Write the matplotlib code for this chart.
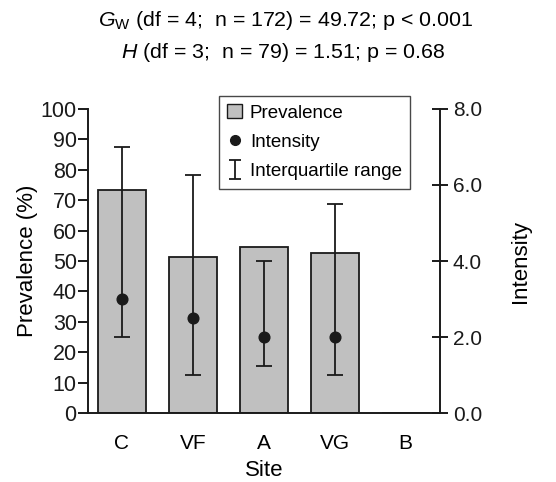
import numpy as np
import matplotlib
matplotlib.use("Agg")
import matplotlib.pyplot as plt
from matplotlib.patches import Patch
from matplotlib.lines import Line2D

plt.rcParams["font.family"] = ["Liberation Sans", "DejaVu Sans"]
plt.rcParams["mathtext.fontset"] = "custom"
plt.rcParams["mathtext.rm"] = "Liberation Sans"
plt.rcParams["mathtext.it"] = "Liberation Sans:italic"

sites = ["C", "VF", "A", "VG", "B"]
prevalence = [73.3, 51.3, 54.6, 52.7, 0.0]
intensity = [3.0, 2.5, 2.0, 2.0, np.nan]
iqr_low = [2.0, 1.0, 1.25, 1.0, np.nan]
iqr_high = [7.0, 6.25, 4.0, 5.5, np.nan]

title_lines = [
    r"$G_{\mathrm{W}}$ (df = 4;  n = 172) = 49.72; p < 0.001",
    r"$H$ (df = 3;  n = 79) = 1.51; p = 0.68",
]

fig = plt.figure(figsize=(5.56, 4.82), dpi=100)
ax = fig.add_axes([0.158, 0.143, 0.633, 0.631])
ax2 = ax.twinx()

x = np.arange(len(sites))
ax.bar(x, prevalence, width=0.68, color="#c0c0c0", edgecolor="#1a1a1a",
       linewidth=1.3, zorder=2)

yerr = [np.array(intensity) - np.array(iqr_low),
        np.array(iqr_high) - np.array(intensity)]
ax2.errorbar(x, intensity, yerr=yerr, fmt="o", color="#1a1a1a",
             markersize=7.7, elinewidth=1.3, capsize=6, capthick=1.3,
             zorder=3)

ax.set_xlim(-0.48, 4.48)
ax.set_ylim(0, 100)
ax2.set_ylim(0, 8)
ax.set_xticks(x)
ax.set_xticklabels(sites)
ax.set_yticks(range(0, 101, 10))
ax2.set_yticks([0, 2, 4, 6, 8])
ax2.set_yticklabels(["0.0", "2.0", "4.0", "6.0", "8.0"])

for a in (ax, ax2):
    a.spines["top"].set_visible(False)
    for s in a.spines.values():
        s.set_linewidth(1.4)
        s.set_color("#1a1a1a")
ax.spines["right"].set_visible(False)
ax2.spines["left"].set_visible(False)
ax2.spines["bottom"].set_visible(False)

ax.tick_params(axis="y", direction="out", length=7, width=1.4,
               labelsize=15.5, pad=1, colors="#1a1a1a")
ax.tick_params(axis="x", length=0, labelsize=15, pad=15)
ax2.tick_params(axis="y", direction="inout", length=11, width=1.4,
                labelsize=15, pad=4, colors="#1a1a1a")

ax.set_xlabel("Site", fontsize=16, labelpad=5)
ax.set_ylabel("Prevalence (%)", fontsize=16, labelpad=2)
ax2.set_ylabel("Intensity", fontsize=16, labelpad=20)

fig.text(0.513, 0.958, title_lines[0], ha="center", va="center", fontsize=15.4)
fig.text(0.509, 0.892, title_lines[1], ha="center", va="center", fontsize=15.4)

# legend handles
h_bar = Patch(facecolor="#c0c0c0", edgecolor="#1a1a1a", linewidth=1.0)
h_pt = Line2D([], [], marker="o", linestyle="none", color="#1a1a1a", markersize=7)
h_err = ax2.errorbar([np.nan], [np.nan], yerr=[[1], [1]], fmt="none",
                     color="#1a1a1a", elinewidth=1.3, capsize=4, capthick=1.3)
leg = ax2.legend([h_bar, h_pt, h_err],
                 ["Prevalence", "Intensity", "Interquartile range"],
                 loc="upper left", bbox_to_anchor=(219 / 556, 1 - 96 / 482),
                 bbox_transform=fig.transFigure, fontsize=13.5,
                 frameon=True, fancybox=False, handlelength=0.8,
                 handletextpad=0.4, borderpad=0.45, labelspacing=0.65,
                 borderaxespad=0)
leg.get_frame().set_edgecolor("#1a1a1a")
leg.get_frame().set_linewidth(1.0)

fig.savefig("out.png", dpi=100)
